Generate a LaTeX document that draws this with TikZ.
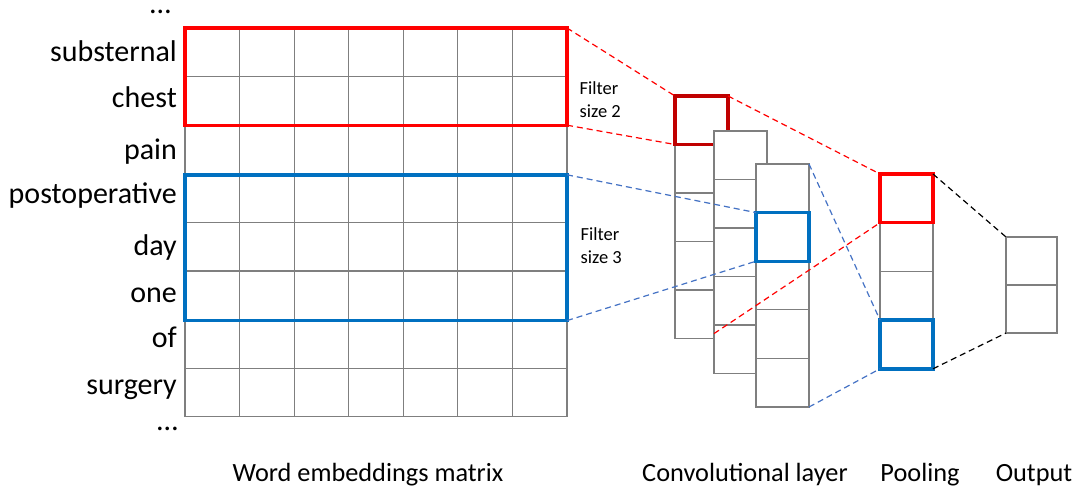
\documentclass[tikz,border=0pt]{standalone}
\usepackage{fontspec}
\setmainfont{Carlito}
\definecolor{gridc}{HTML}{7F7F7F}
\definecolor{fred}{HTML}{FF0000}
\definecolor{fblue}{HTML}{0070C0}
\definecolor{dred}{HTML}{C00000}
\definecolor{dashblue}{HTML}{4472C4}
\begin{document}
\begin{tikzpicture}[x=1pt,y=-1pt,
  gridline/.style={draw=gridc,line width=1.1pt},
  cell/.style={draw=gridc,fill=white,line width=1.1pt,inner sep=0pt,outer sep=0pt,minimum width=53pt,minimum height=48.6pt,anchor=north west},
  hibox/.style={line width=3.4pt,inner sep=0pt,outer sep=0pt,anchor=north west},
  conn/.style={dash pattern=on 6pt off 4pt,line width=1.2pt},
  word/.style={font=\fontsize{30}{31}\selectfont,anchor=base east,inner sep=0pt},
  lab/.style={font=\fontsize{26.3}{28}\selectfont,anchor=base,inner sep=0pt},
  flab/.style={font=\fontsize{18.5}{22}\selectfont,anchor=base west,inner sep=0pt}]
\useasboundingbox (0,0) rectangle (1076,487);
% ---- word embeddings matrix ----
\node[draw=gridc,line width=1.1pt,inner sep=0pt,outer sep=0pt,minimum width=382pt,minimum height=388.7pt,anchor=north west] (mat) at (185,28) {};
\foreach \i in {1,...,6} \draw[gridline] (185+\i*54.57,28) -- (185+\i*54.57,416.7);
\foreach \j in {1,...,7} \draw[gridline] (185,28+\j*48.59) -- (567,28+\j*48.59);
\node[hibox,draw=fred,minimum width=382pt,minimum height=97.2pt] (rbox) at (185,28) {};
\node[hibox,draw=fblue,minimum width=382pt,minimum height=145.8pt] (bbox) at (185,174.8) {};
% words
\node[word] (w0) at (171,14) {…};
\node[word] (w1) at (177,61.7) {substernal};
\node[word] (w2) at (177,107.3) {chest};
\node[word] (w3) at (177,159) {pain};
\node[word] (w4) at (177,203.5) {postoperative};
\node[word] (w5) at (177,255) {day};
\node[word] (w6) at (177,302) {one};
\node[word] (w7) at (177,347) {of};
\node[word] (w8) at (177,394) {surgery};
\node[word] (w9) at (178,430) {…};
% filter labels
\node[flab] (f2a) at (579.5,94) {Filter};
\node[flab] (f2b) at (579.5,117.7) {size 2};
\node[flab] (f3a) at (580.5,240.5) {Filter};
\node[flab] (f3b) at (580.5,263.5) {size 3};
% ---- convolutional layer ----
\foreach \k in {0,...,4} \node[cell] (ca\k) at (675,96+\k*48.5) {};
\node[hibox,draw=dred,minimum width=53pt,minimum height=48.5pt] (dbox) at (675,96) {};
\foreach \k in {0,...,4} \node[cell] (cb\k) at (714,131+\k*48.5) {};
\foreach \k in {0,...,4} \node[cell] (cc\k) at (756,164+\k*48.6) {};
\node[hibox,draw=fblue,minimum width=53pt,minimum height=48.6pt] (cbox) at (756,212.6) {};
% ---- pooling ----
\foreach \k in {0,...,3} \node[cell] (p\k) at (880,174+\k*48.7) {};
\node[hibox,draw=fred,minimum width=53pt,minimum height=48.7pt] (prbox) at (880,174) {};
\node[hibox,draw=fblue,minimum width=53pt,minimum height=48.7pt] (pbbox) at (880,320.1) {};
% ---- output ----
\node[cell,minimum width=51pt,minimum height=48pt] (o0) at (1006,237) {};
\node[cell,minimum width=51pt,minimum height=48pt] (o1) at (1006,285) {};
% ---- connectors ----
\draw[conn,fred] (rbox.north east) -- (dbox.north west);
\draw[conn,fred] (rbox.south east) -- (dbox.south west);
\draw[conn,dashblue] (bbox.north east) -- (cbox.north west);
\draw[conn,dashblue] (bbox.south east) -- (cbox.south west);
\coordinate (cbl) at ([yshift=5pt]ca4.south -| cb4.west);
\draw[conn,fred] (dbox.north east) -- (prbox.north west);
\draw[conn,fred] (cbl) -- (prbox.south west);
\draw[conn,dashblue] (cc0.north east) -- (pbbox.north west);
\draw[conn,dashblue] (cc4.south east) -- (pbbox.south west);
\draw[conn,black] (prbox.north east) -- (o0.north west);
\draw[conn,black] (pbbox.south east) -- (o1.south west);
% ---- bottom labels ----
\node[lab] (l1) at (368,481) {Word embeddings matrix};
\node[lab] (l2) at (745,481) {Convolutional layer};
\node[lab] (l3) at (920,481) {Pooling};
\node[lab] (l4) at (1034,481) {Output};
\end{tikzpicture}
\end{document}
